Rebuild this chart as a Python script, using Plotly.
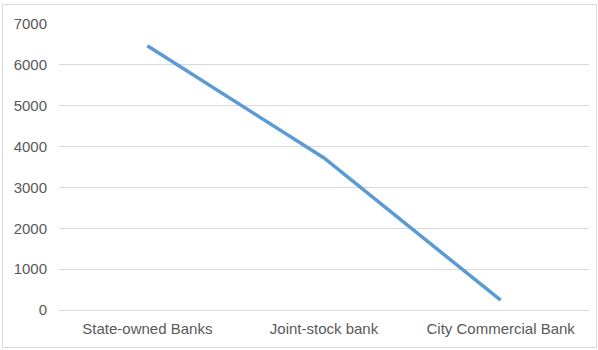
import plotly.graph_objects as go

categories = ["State-owned Banks", "Joint-stock bank", "City Commercial Bank"]
values = [6470, 3720, 240]
y_ticks = [0, 1000, 2000, 3000, 4000, 5000, 6000, 7000]

fig = go.Figure()
fig.add_trace(go.Scatter(
    x=categories, y=values, mode="lines",
    line=dict(color="#5b9bd5", width=3.5),
    showlegend=False,
))

W, H = 598, 350
ml, mr, mt, mb = 59, 9, 24, 40
pw, ph = W - ml - mr, H - mt - mb

def px(x):
    return (x - ml) / pw

def py(y):
    return 1 - (y - mt) / ph

fig.update_layout(
    width=W, height=H, autosize=False,
    margin=dict(l=ml, r=mr, t=mt, b=mb, pad=0, autoexpand=False),
    paper_bgcolor="white", plot_bgcolor="white",
    font=dict(family="Liberation Sans, Arial, sans-serif", size=15, color="#595959"),
    xaxis=dict(range=[-0.5, 2.5], showgrid=False, showline=False, zeroline=False,
               ticks="", automargin=False, ticklabelstandoff=8,
               tickfont=dict(size=15, color="#595959")),
    yaxis=dict(range=[0, 7000], tickvals=y_ticks, showgrid=True, automargin=False,
               gridcolor="#d9d9d9", gridwidth=1, zeroline=True,
               zerolinecolor="#d9d9d9", zerolinewidth=1, showline=False,
               ticks="", ticklabelstandoff=11,
               tickfont=dict(size=15, color="#595959")),
    shapes=[dict(type="rect", xref="paper", yref="paper",
                 x0=px(2.5), x1=px(596.5), y0=py(347.5), y1=py(4.5),
                 line=dict(color="#d9d9d9", width=1), fillcolor="rgba(0,0,0,0)",
                 layer="below")],
)

fig.write_html("out.html")
